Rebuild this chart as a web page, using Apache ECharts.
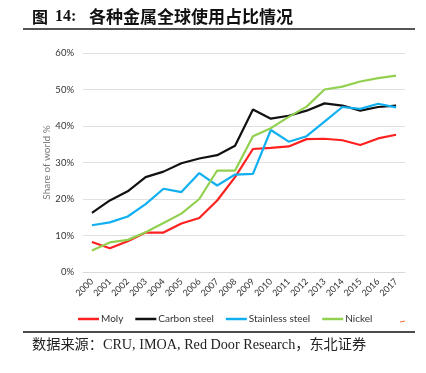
<!DOCTYPE html>
<html><head><meta charset="utf-8">
<script src="https://cdn.jsdelivr.net/npm/echarts@6/dist/echarts.min.js"></script>
<style>html,body{margin:0;padding:0;background:#fff;}#c{width:426px;height:373px;}</style>
</head><body><div id="c"></div>
<script>
const years = ['2000','2001','2002','2003','2004','2005','2006','2007','2008','2009','2010','2011','2012','2013','2014','2015','2016','2017'];
const moly = [8.2,6.5,8.4,10.8,10.8,13.3,14.8,19.6,26.0,33.7,34.0,34.4,36.4,36.5,36.1,34.8,36.6,37.6];
const carbonSteel = [16.2,19.6,22.1,26.0,27.5,29.8,31.1,32.0,34.6,44.5,42.0,42.8,44.2,46.2,45.6,44.2,45.2,45.6];
const stainlessSteel = [12.8,13.6,15.2,18.6,22.8,21.9,27.1,23.7,26.7,26.9,38.9,35.7,37.2,41.2,45.2,44.7,46.1,45.1];
const nickel = [5.9,8.1,8.8,10.9,13.4,16.0,20.0,27.8,27.8,37.2,39.4,42.5,45.3,50.0,50.8,52.2,53.1,53.8];
const yTicks = [0,10,20,30,40,50,60];
const titleLabel = '图';
const titleNum = '14:';
const titleText = '各种金属全球使用占比情况';
const sourceText = '数据来源：CRU, IMOA, Red Door Research，东北证券';

const chart = echarts.init(document.getElementById('c'), null, {renderer:'canvas'});
const mk = (name, data, color) => ({name, type:'line', data, symbol:'none', smooth:false,
  lineStyle:{color, width:2.2}, itemStyle:{color}});
const titleFont = '"Noto Sans CJK SC", serif';
const graphics = [
  {type:'text', left:32, top:9, style:{text:titleLabel, fontSize:16, fontWeight:'bold', fill:'#111', fontFamily:titleFont}},
  {type:'text', left:55, top:9, style:{text:titleNum, fontSize:16, fontWeight:'bold', fill:'#111', fontFamily:'"Liberation Serif", serif'}},
  {type:'text', left:89, top:8, style:{text:titleText, fontSize:17, fontWeight:'bold', fill:'#111', fontFamily:titleFont}},
  {type:'line', shape:{x1:23,y1:29,x2:415,y2:29}, style:{stroke:'#555', lineWidth:2}},
  {type:'line', shape:{x1:23,y1:332,x2:415,y2:332}, style:{stroke:'#111', lineWidth:1.5}},
  {type:'line', shape:{x1:400,y1:322,x2:405,y2:321}, style:{stroke:'#ff6a30', lineWidth:1}},
  {type:'text', left:32, top:338, style:{text:sourceText,
    fontSize:14.2, fill:'#222', fontFamily:'"Liberation Serif", "Noto Sans CJK SC", serif'}}
];
chart.setOption({
  animation:false,
  grid:{left:83, right:21, top:53, bottom:101},
  legend:{top:309, left:73, icon:'rect', itemWidth:21, itemHeight:2.5, itemGap:12,
    textStyle:{fontSize:10, color:'#333', fontFamily:'Lato', padding:[0,0,0,-3]}},
  xAxis:{type:'category', data:years, boundaryGap:true,
    axisLine:{lineStyle:{color:'#d9d9d9'}}, axisTick:{show:false},
    axisLabel:{rotate:45, fontSize:9, color:'#333', interval:0, margin:8, fontFamily:'Lato'}},
  yAxis:{type:'value', min:yTicks[0], max:yTicks[yTicks.length-1], interval:10,
    name:'Share of world %', nameLocation:'middle', nameGap:31, nameRotate:90, nameMoveOverlap:false,
    nameTextStyle:{fontSize:10, color:'#777', fontFamily:'Lato'},
    axisLine:{show:false}, axisTick:{show:false},
    axisLabel:{formatter:'{value}%', fontSize:9.5, color:'#333', margin:9, fontFamily:'Lato'},
    splitLine:{lineStyle:{color:'#e0e0e0', width:1}}},
  series:[mk('Moly',moly,'#ff2020'), mk('Carbon steel',carbonSteel,'#111111'),
          mk('Stainless steel',stainlessSteel,'#10b0f0'), mk('Nickel',nickel,'#92d050')],
  graphic:graphics
});
</script></body></html>
